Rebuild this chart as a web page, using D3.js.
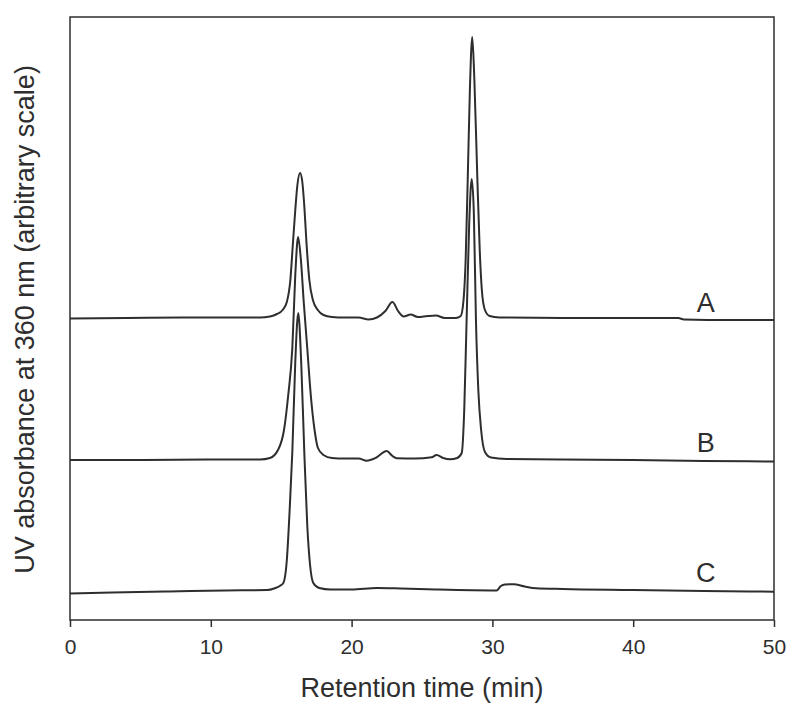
<!DOCTYPE html>
<html>
<head>
<meta charset="utf-8">
<script src="https://cdn.jsdelivr.net/npm/d3@7"></script>
<style>
  body { margin: 0; background: #fff; }
</style>
</head>
<body>
<svg id="chart" width="800" height="716"></svg>
<script>
// Chromatogram traces: [retention time (min), absorbance (arbitrary)]
const traceA = [
  [0, 301.5], [4, 302], [8, 302.5], [12, 302.5], [13.5, 302.5], [14.2, 303.5], [14.7, 306],
  [15.1, 310], [15.4, 318], [15.65, 340], [15.82, 374], [16.0, 410], [16.15, 435], [16.34, 447],
  [16.5, 438], [16.65, 412], [16.81, 374], [17.0, 340], [17.25, 320], [17.6, 310], [18.0, 305],
  [18.6, 303], [19.5, 302.5], [20.5, 302.5], [21.2, 300.5], [21.8, 302.5], [22.4, 309], [22.9, 318],
  [23.3, 309], [23.7, 303.5], [24.2, 305.5], [24.7, 303], [25.4, 304], [26.0, 304.5], [26.6, 302],
  [27.4, 302], [27.75, 304], [27.95, 320], [28.1, 360], [28.25, 442], [28.4, 530], [28.57, 583],
  [28.72, 540], [28.93, 442], [29.1, 370], [29.25, 330], [29.47, 310], [29.8, 304], [30.5, 302.5],
  [35, 302], [40, 302], [43.2, 302], [43.6, 300.5], [47, 300], [50, 300]
];

const traceB = [
  [0, 160], [5, 160], [10, 160.5], [13.5, 160.5], [14.2, 162], [14.77, 170], [15.2, 190],
  [15.5, 225], [15.79, 272], [16.0, 345], [16.2, 383], [16.4, 360], [16.6, 318], [16.85, 272],
  [17.1, 225], [17.35, 192], [17.61, 172], [18.0, 165], [18.6, 162], [19.5, 161.5], [20.5, 161.5],
  [21.07, 159.3], [21.7, 162], [22.49, 169], [22.9, 164], [23.2, 161.7], [24.5, 161.5], [25.69, 162.7],
  [26.04, 165], [26.5, 162], [26.99, 160.7], [27.5, 162], [27.82, 167], [28.0, 210], [28.17, 301],
  [28.35, 395], [28.53, 441], [28.68, 408], [28.83, 301], [29.0, 230], [29.2, 190], [29.47, 168],
  [29.9, 162.5], [31, 161], [35, 160.5], [40, 160], [45, 159], [50, 158.5]
];

const traceC = [
  [0, 26.5], [3, 27.5], [7, 28.5], [11, 29.5], [14.0, 30], [14.5, 31.5], [14.9, 34], [15.15, 37],
  [15.4, 60], [15.6, 110], [15.79, 168], [16.0, 258], [16.21, 307], [16.42, 258], [16.64, 168],
  [16.85, 95], [17.05, 55], [17.28, 37], [17.7, 32], [18.5, 30.5], [20, 30.5], [21.8, 32],
  [23.5, 31.5], [26, 30.5], [30.3, 29.5], [30.6, 34], [30.9, 35.5], [31.5, 35.8], [32.3, 33.5],
  [33.1, 31.8], [35, 31], [40, 30], [45, 29], [50, 28.3]
];

const traceNames = ["A", "B", "C"];
const xTicks = [0, 10, 20, 30, 40, 50];

const svg = d3.select("#chart");
const ink = "#2e2e2e";
const font = "Liberation Sans, Arial, sans-serif";

// Plot frame in pixels
const margin = { top: 17, right: 26, bottom: 96, left: 70 };
const width = 800, height = 716;

const x = d3.scaleLinear()
  .domain([0, 50])
  .range([margin.left, width - margin.right]);

const y = d3.scaleLinear()
  .domain([0, 603])
  .range([height - margin.bottom, margin.top]);

// Bottom axis with outward ticks
const xAxis = svg.append("g")
  .attr("transform", `translate(0,${height - margin.bottom})`)
  .call(d3.axisBottom(x).tickValues(xTicks).tickSize(7).tickSizeOuter(0).tickPadding(12));

xAxis.select(".domain").remove();
xAxis.selectAll("line").attr("stroke", ink).attr("stroke-width", 1.5);
xAxis.selectAll("text")
  .attr("font-family", font)
  .attr("font-size", "21px")
  .attr("fill", ink);

// Frame box
svg.append("rect")
  .attr("x", x(0))
  .attr("y", y(603))
  .attr("width", x(50) - x(0))
  .attr("height", y(0) - y(603))
  .attr("fill", "none")
  .attr("stroke", ink)
  .attr("stroke-width", 1.5);

// Traces
const line = d3.line()
  .x(d => x(d[0]))
  .y(d => y(d[1]))
  .curve(d3.curveMonotoneX);

const traces = [traceA, traceB, traceC];

svg.selectAll(".trace")
  .data(traces)
  .enter().append("path")
  .attr("class", "trace")
  .attr("d", line)
  .attr("fill", "none")
  .attr("stroke", ink)
  .attr("stroke-width", 2)
  .attr("stroke-linejoin", "round");

// Trace labels, sitting just above each baseline near the right end
svg.selectAll(".trace-label")
  .data(traces)
  .enter().append("text")
  .attr("class", "trace-label")
  .attr("x", x(45.15))
  .attr("y", d => y(d[d.length - 3][1]) - 8)
  .attr("text-anchor", "middle")
  .attr("font-family", font)
  .attr("font-size", "27px")
  .attr("fill", ink)
  .text((d, i) => traceNames[i]);

// Axis titles
svg.append("text")
  .attr("x", (x(0) + x(50)) / 2)
  .attr("y", 697)
  .attr("text-anchor", "middle")
  .attr("font-family", font)
  .attr("font-size", "27px")
  .attr("fill", ink)
  .text("Retention time (min)");

svg.append("text")
  .attr("transform", `translate(34,${(y(0) + y(603)) / 2 + 1}) rotate(-90)`)
  .attr("text-anchor", "middle")
  .attr("font-family", font)
  .attr("font-size", "27px")
  .attr("fill", ink)
  .text("UV absorbance at 360 nm (arbitrary scale)");
</script>
</body>
</html>
